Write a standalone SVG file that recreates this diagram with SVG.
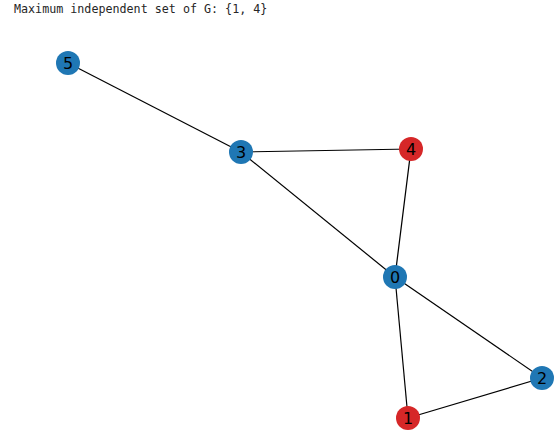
<svg xmlns="http://www.w3.org/2000/svg" width="558" height="440" viewBox="0 0 558 440">
<style>
.e{stroke:#000;stroke-width:1.2;fill:none}
.n{stroke:none}
.b{fill:#1f77b4}
.r{fill:#d62728}
.l{font-family:"DejaVu Sans",sans-serif;font-size:16px;fill:#000;text-anchor:middle;dominant-baseline:central}
.t{font-family:"DejaVu Sans Mono",monospace;font-size:11.7px;fill:#262626}
</style>
<rect width="558" height="440" fill="#fff"/>
<text class="t" x="14" y="13">Maximum independent set of G: {1, 4}</text>
<g id="edges">
<line class="e" x1="68" y1="63" x2="241" y2="152"/>
<line class="e" x1="241" y1="152" x2="411" y2="149"/>
<line class="e" x1="241" y1="152" x2="395" y2="277"/>
<line class="e" x1="411" y1="149" x2="395" y2="277"/>
<line class="e" x1="395" y1="277" x2="542" y2="378"/>
<line class="e" x1="395" y1="277" x2="408" y2="418"/>
<line class="e" x1="408" y1="418" x2="542" y2="378"/>
</g>
<g id="node0"><circle class="n b" cx="395" cy="277" r="12"/><text class="l" x="395" y="277">0</text></g>
<g id="node1"><circle class="n r" cx="408" cy="418" r="12"/><text class="l" x="408" y="418">1</text></g>
<g id="node2"><circle class="n b" cx="542" cy="378" r="12"/><text class="l" x="542" y="378">2</text></g>
<g id="node3"><circle class="n b" cx="241" cy="152" r="12"/><text class="l" x="241" y="152">3</text></g>
<g id="node4"><circle class="n r" cx="411" cy="149" r="12"/><text class="l" x="411" y="149">4</text></g>
<g id="node5"><circle class="n b" cx="68" cy="63" r="12"/><text class="l" x="68" y="63">5</text></g>
</svg>
